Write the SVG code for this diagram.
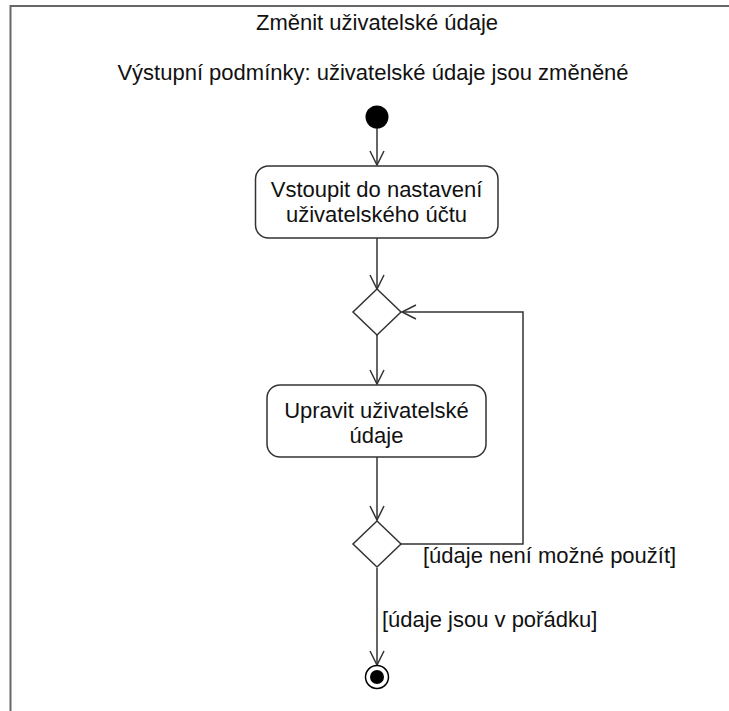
<svg xmlns="http://www.w3.org/2000/svg" width="729" height="711" viewBox="0 0 729 711">
  <style>
    .t { font-family: "Liberation Sans", Arial, sans-serif; font-size: 22px; fill: #111; }
    .c { text-anchor: middle; }
    .edge { fill: none; stroke: #333; stroke-width: 1.5; }
    .act { fill: #fff; stroke: #333; stroke-width: 1.5; }
    .dec { fill: #fff; stroke: #333; stroke-width: 1.5; }
  </style>
  <defs>
    <marker id="open" markerWidth="20" markerHeight="20" refX="15" refY="8" orient="auto" markerUnits="userSpaceOnUse">
      <path d="M1,1 L15,8 L1,15" fill="none" stroke="#333" stroke-width="1.5"/>
    </marker>
  </defs>
  <rect width="729" height="711" fill="#fff"/>

  <!-- frame (top and left edges) -->
  <path d="M10.5,711 L10.5,6 L729,6" fill="none" stroke="#666" stroke-width="2"/>

  <text class="t c" x="377" y="30">Změnit uživatelské údaje</text>
  <text class="t c" x="373" y="80">Výstupní podmínky: uživatelské údaje jsou změněné</text>

  <g id="connectors">
    <line class="edge" x1="377" y1="128" x2="377" y2="165" marker-end="url(#open)"/>
    <line class="edge" x1="377" y1="238" x2="377" y2="289" marker-end="url(#open)"/>
    <line class="edge" x1="377" y1="335" x2="377" y2="384" marker-end="url(#open)"/>
    <line class="edge" x1="377" y1="457" x2="377" y2="520" marker-end="url(#open)"/>
    <polyline class="edge" points="401,544 523,544 523,312 402,312" marker-end="url(#open)"/>
    <line class="edge" x1="377" y1="568" x2="377" y2="665" marker-end="url(#open)"/>
    <text class="t" x="423" y="563">[údaje není možné použít]</text>
    <text class="t" x="382" y="627">[údaje jsou v pořádku]</text>
  </g>

  <g id="start">
    <circle cx="377" cy="117" r="11.5" fill="#000"/>
  </g>

  <g id="enter-settings">
    <rect class="act" x="255.5" y="166" width="242.5" height="72" rx="13"/>
    <text class="t c" x="376.5" y="197">Vstoupit do nastavení</text>
    <text class="t c" x="376.5" y="222">uživatelského účtu</text>
  </g>

  <g id="merge">
    <polygon class="dec" points="377,289 401,312 377,335 353,312"/>
  </g>

  <g id="edit-data">
    <rect class="act" x="267" y="385" width="219" height="72" rx="13"/>
    <text class="t c" x="376.5" y="418">Upravit uživatelské</text>
    <text class="t c" x="376.5" y="443">údaje</text>
  </g>

  <g id="check">
    <polygon class="dec" points="377,521 401,544 377,567 353,544"/>
  </g>

  <g id="end">
    <circle cx="377" cy="677" r="11.5" fill="#fff" stroke="#000" stroke-width="1.5"/>
    <circle cx="377" cy="677" r="7" fill="#000"/>
  </g>
</svg>
